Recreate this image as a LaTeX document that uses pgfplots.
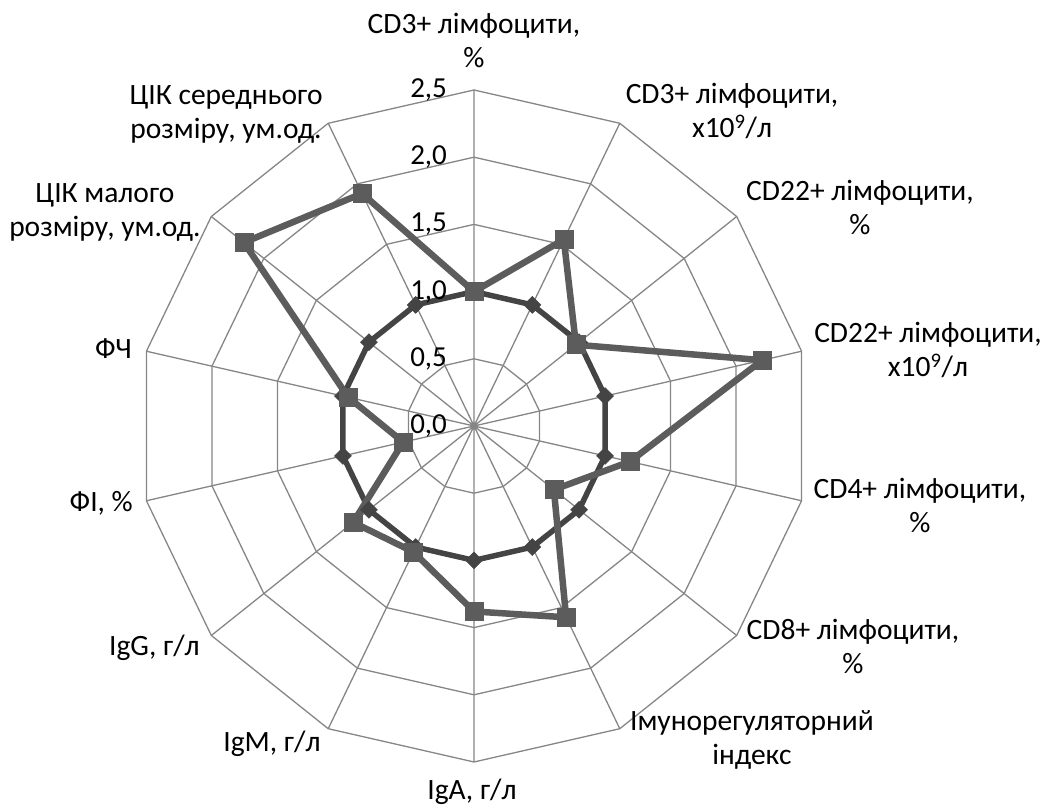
\documentclass[border=0pt]{standalone}
\usepackage{fontspec}
\setmainfont{Carlito}
\usepackage{pgfplots}
\pgfplotsset{compat=1.18}
\definecolor{gridc}{HTML}{868686}
\definecolor{sqc}{HTML}{5C5C5C}
\definecolor{dmc}{HTML}{444444}
\tikzset{
  lbl/.style={font=\fontsize{29.5}{34}\selectfont, align=center, text=black, inner sep=0pt},
  tkl/.style={font=\fontsize{29}{30}\selectfont, anchor=east, text=black, inner sep=0pt}}
\begin{document}
\begin{tikzpicture}
\begin{axis}[x=134.4pt, y=134.4pt,
  xmin=-3.5268, xmax=4.3080, ymin=-2.8497, ymax=3.1696,
  hide axis, clip=false]
\path[draw=none] (rel axis cs:0,0) rectangle (rel axis cs:1,1);
% grid polygons
\pgfplotsinvokeforeach{0.5,1.0,1.5,2.0,2.5}{
\addplot[data cs=polar, gridc, line width=1.3pt, no marks] coordinates {
(90,#1) (64.2857,#1) (38.5714,#1) (12.8571,#1) (-12.8571,#1) (-38.5714,#1) (-64.2857,#1)
(-90,#1) (-115.7143,#1) (-141.4286,#1) (-167.1429,#1) (-192.8571,#1) (-218.5714,#1) (-244.2857,#1) (90,#1)};
}
% radial lines
\addplot[data cs=polar, gridc, line width=1.3pt, no marks] coordinates {
(90,2.5) (0,0) (64.2857,2.5) (0,0) (38.5714,2.5) (0,0) (12.8571,2.5) (0,0)
(-12.8571,2.5) (0,0) (-38.5714,2.5) (0,0) (-64.2857,2.5) (0,0) (-90,2.5) (0,0)
(-115.7143,2.5) (0,0) (-141.4286,2.5) (0,0) (-167.1429,2.5) (0,0) (-192.8571,2.5) (0,0)
(-218.5714,2.5) (0,0) (-244.2857,2.5) (0,0)};
% control series (diamonds)
\addplot[data cs=polar, dmc, line width=5.5pt, mark=square*, mark size=6pt,
  mark options={rotate=45, fill=dmc, draw=dmc, line width=0.5pt}] coordinates {
(90,1.0) (64.2857,1.0) (38.5714,1.0) (12.8571,1.0) (-12.8571,1.0) (-38.5714,1.0) (-64.2857,1.0)
(-90,1.0) (-115.7143,1.0) (-141.4286,1.0) (-167.1429,1.0) (-192.8571,1.0) (-218.5714,1.0) (-244.2857,1.0) (90,1.0)};
% patient series (squares)
\addplot[data cs=polar, sqc, line width=6.5pt, mark=square*, mark size=9pt,
  mark options={fill=sqc, draw=sqc, line width=0.5pt}] coordinates {
(90,1.00) (64.2857,1.54) (38.5714,0.97) (12.8571,2.20) (-12.8571,1.19) (-38.5714,0.76) (-64.2857,1.58)
(-90,1.38) (-115.7143,1.04) (-141.4286,1.15) (-167.1429,0.54) (-192.8571,0.96) (-218.5714,2.19) (-244.2857,1.92) (90,1.00)};
% tick labels
\node[tkl] at (axis cs:-0.2,0.0) {0,0};
\node[tkl] at (axis cs:-0.2,0.5) {0,5};
\node[tkl] at (axis cs:-0.2,1.0) {1,0};
\node[tkl] at (axis cs:-0.2,1.5) {1,5};
\node[tkl] at (axis cs:-0.2,2.0) {2,0};
\node[tkl] at (axis cs:-0.2,2.5) {2,5};
% category labels
\node[lbl] at (axis cs:0,2.872) {CD3+ лімфоцити,\\\%};
\node[lbl] at (axis cs:1.920,2.344) {CD3+ лімфоцити,\\х10\textsuperscript{9}/л};
\node[lbl] at (axis cs:2.872,1.629) {CD22+ лімфоцити,\\\%};
\node[lbl] at (axis cs:3.378,0.565) {CD22+ лімфоцити,\\х10\textsuperscript{9}/л};
\node[lbl] at (axis cs:3.318,-0.595) {CD4+ лімфоцити,\\\%};
\node[lbl] at (axis cs:2.820,-1.637) {CD8+ лімфоцити,\\\%};
\node[lbl] at (axis cs:2.068,-2.336) {Імунорегуляторний\\індекс};
\node[lbl] at (axis cs:-0.015,-2.723) {IgA, г/л};
\node[lbl] at (axis cs:-1.503,-2.366) {IgM, г/л};
\node[lbl, anchor=east] at (axis cs:-2.039,-1.652) {IgG, г/л};
\node[lbl, anchor=east] at (axis cs:-2.537,-0.573) {ФІ, \%};
\node[lbl, anchor=east] at (axis cs:-2.545,0.573) {ФЧ};
\node[lbl] at (axis cs:-2.746,1.592) {ЦІК малого\\розміру, ум.од.};
\node[lbl] at (axis cs:-1.845,2.321) {ЦІК середнього\\розміру, ум.од.};
\end{axis}
\end{tikzpicture}
\end{document}
